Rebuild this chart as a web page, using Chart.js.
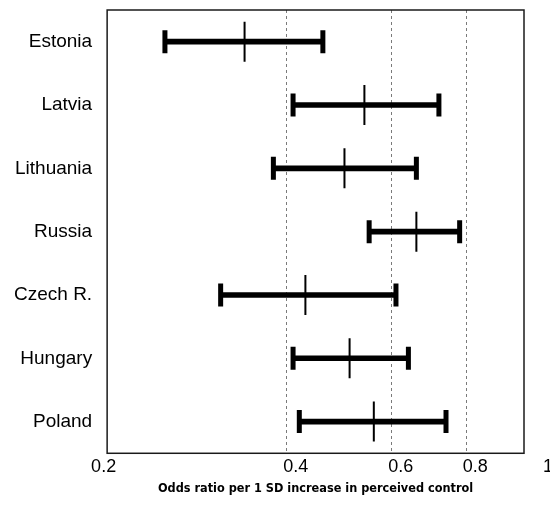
<!DOCTYPE html>
<html>
<head>
<meta charset="utf-8">
<script src="https://cdn.jsdelivr.net/npm/chart.js@4/dist/chart.umd.min.js"></script>
<style>
  html, body { margin: 0; padding: 0; background: #fff; }
  #wrap { width: 550px; height: 510px; position: relative; }
</style>
</head>
<body>
<div id="wrap"><canvas id="chart"></canvas></div>
<script>
  // countries, top to bottom
  const countries = ['Estonia', 'Latvia', 'Lithuania', 'Russia', 'Czech R.', 'Hungary', 'Poland'];
  // odds ratio and 95% CI
  const oddsRatio = [0.34, 0.54, 0.50, 0.66, 0.43, 0.51, 0.56];
  const ciLow     = [0.25, 0.41, 0.38, 0.55, 0.31, 0.41, 0.42];
  const ciHigh    = [0.46, 0.72, 0.66, 0.78, 0.61, 0.64, 0.74];
  // axis
  const xTicks = [0.2, 0.4, 0.6, 0.8, 1];
  const refLines = [0.4, 0.6, 0.8];

  // box around the plot area
  const frame = {
    id: 'frame',
    afterDraw(chart) {
      const a = chart.chartArea, c = chart.ctx;
      c.save();
      c.strokeStyle = '#1a1a1a';
      c.lineWidth = 1.5;
      c.strokeRect(a.left, a.top, a.right - a.left, a.bottom - a.top);
      c.restore();
    }
  };

  const noEdgePadding = (scale) => {
    scale.paddingTop = 0; scale.paddingBottom = 0;
    scale.paddingLeft = 0; scale.paddingRight = 0;
  };

  // the end labels sit a bit off their ticks in the original
  const tickText = (v) => {
    if (v === 0.2) return '0.2     ';
    if (v === 1) return '      1';
    return String(v);
  };

  const capStyle = {
    type: 'line', indexAxis: 'y', showLine: false,
    pointStyle: 'line', rotation: 90, pointRadius: 11.5, pointHoverRadius: 11.5,
    pointBorderWidth: 5, borderColor: '#000', backgroundColor: '#000'
  };

  const ctx = document.getElementById('chart').getContext('2d');
  const chart = new Chart(ctx, {
    type: 'bar',
    data: {
      labels: countries,
      datasets: [
        {
          type: 'bar', indexAxis: 'y',
          data: ciLow.map((l, i) => [l, ciHigh[i]]),
          backgroundColor: '#000',
          barThickness: 5
        },
        Object.assign({ data: ciLow }, capStyle),
        Object.assign({ data: ciHigh }, capStyle),
        {
          type: 'line', indexAxis: 'y', showLine: false,
          data: oddsRatio,
          pointStyle: 'line', rotation: 90, pointRadius: 20, pointHoverRadius: 20,
          pointBorderWidth: 2, borderColor: '#000', backgroundColor: '#000'
        }
      ]
    },
    options: {
      indexAxis: 'y',
      responsive: true,
      maintainAspectRatio: false,
      animation: false,
      layout: { autoPadding: false, padding: { top: 10, right: 26, left: -1, bottom: 14 } },
      plugins: {
        legend: { display: false },
        tooltip: { enabled: false }
      },
      scales: {
        x: {
          type: 'logarithmic',
          min: 0.2,
          max: 1,
          afterBuildTicks: (scale) => { scale.ticks = xTicks.map(v => ({ value: v })); },
          afterFit: noEdgePadding,
          ticks: {
            autoSkip: false,
            maxRotation: 0,
            labelOffset: 9,
            padding: 3,
            color: '#000',
            font: { family: '"Liberation Sans", Arial, sans-serif', size: 18 },
            callback: tickText
          },
          grid: {
            drawTicks: false,
            lineWidth: 1,
            color: (c) => (c.tick && refLines.includes(c.tick.value)) ? '#7a7a7a' : 'rgba(0,0,0,0)'
          },
          border: { display: false, dash: [3, 3] },
          title: {
            display: true,
            text: 'Odds ratio per 1 SD increase in perceived control',
            color: '#000',
            padding: { top: 0, bottom: 0 },
            font: { family: '"DejaVu Sans Condensed", "DejaVu Sans", sans-serif', size: 12.6, weight: 'bold' }
          }
        },
        y: {
          type: 'category',
          offset: true,
          afterFit: noEdgePadding,
          grid: { display: false, drawTicks: false },
          border: { display: false },
          ticks: {
            padding: 15,
            color: '#000',
            font: { family: '"Liberation Sans", Arial, sans-serif', size: 19 }
          }
        }
      }
    },
    plugins: [frame]
  });
</script>
</body>
</html>
